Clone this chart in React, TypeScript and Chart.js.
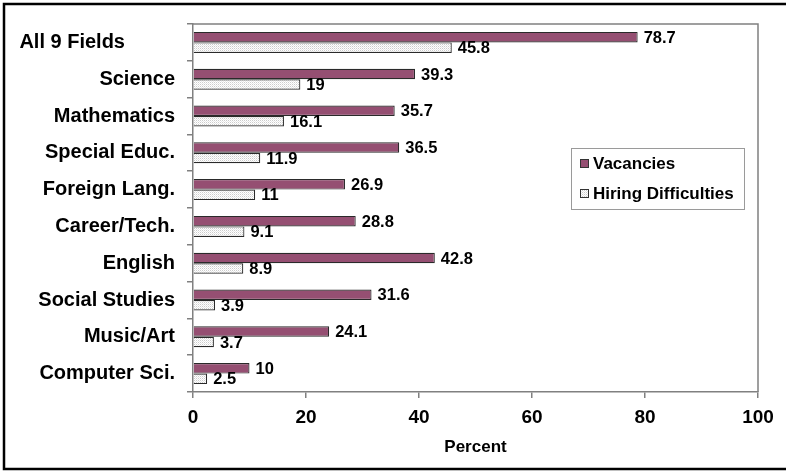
import React, { useEffect, useRef } from "react";
import { Chart, registerables } from "chart.js";

Chart.register(...registerables);

// Teacher shortage by field (percent of schools)
const categories = [
  "All 9 Fields",
  "Science",
  "Mathematics",
  "Special Educ.",
  "Foreign Lang.",
  "Career/Tech.",
  "English",
  "Social Studies",
  "Music/Art",
  "Computer Sci.",
];
const vacancies = [78.7, 39.3, 35.7, 36.5, 26.9, 28.8, 42.8, 31.6, 24.1, 10];
const hiringDifficulties = [45.8, 19, 16.1, 11.9, 11, 9.1, 8.9, 3.9, 3.7, 2.5];
const xTickValues = [0, 20, 40, 60, 80, 100];
const seriesNames = ["Vacancies", "Hiring Difficulties"];
const axisTitle = "Percent";

const FONT = '"Liberation Sans", Arial, Helvetica, sans-serif';
const W = 786;
const H = 472;

function makeStipple(): CanvasPattern | string {
  const c = document.createElement("canvas");
  c.width = 2;
  c.height = 2;
  const g = c.getContext("2d");
  if (!g) return "#eeeeee";
  g.fillStyle = "#ffffff";
  g.fillRect(0, 0, 2, 2);
  g.fillStyle = "#cccccc";
  g.fillRect(0, 0, 1, 1);
  g.fillStyle = "#e8e8e8";
  g.fillRect(1, 1, 1, 1);
  const p = g.createPattern(c, "repeat");
  return p || "#eeeeee";
}

// Outer frame and the plot-area outline (top / right edges)
const framePlugin = {
  id: "frame",
  beforeDraw(chart: any) {
    const { ctx } = chart;
    ctx.save();
    ctx.fillStyle = "#ffffff";
    ctx.fillRect(0, 0, W, H);
    ctx.strokeStyle = "#000000";
    ctx.lineWidth = 2.5;
    ctx.strokeRect(4, 4, W + 10, H - 7);
    ctx.restore();
  },
  beforeDatasetsDraw(chart: any) {
    const { ctx, chartArea } = chart;
    ctx.save();
    ctx.strokeStyle = "#808080";
    ctx.lineWidth = 1.5;
    ctx.beginPath();
    ctx.moveTo(chartArea.left, chartArea.top);
    ctx.lineTo(chartArea.right, chartArea.top);
    ctx.lineTo(chartArea.right, chartArea.bottom);
    ctx.stroke();
    ctx.restore();
  },
};

// Value labels at the end of each bar
const valueLabelPlugin = {
  id: "valueLabels",
  afterDatasetsDraw(chart: any) {
    const { ctx } = chart;
    ctx.save();
    ctx.font = `bold 16.5px ${FONT}`;
    ctx.fillStyle = "#000000";
    ctx.textAlign = "left";
    ctx.textBaseline = "middle";
    chart.data.datasets.forEach((ds: any, di: number) => {
      const meta = chart.getDatasetMeta(di);
      meta.data.forEach((el: any, i: number) => {
        const v = ds.data[i];
        ctx.fillText(String(v), el.x + 6, el.y + 1);
      });
    });
    ctx.restore();
  },
};

// Boxed legend inside the plot area
const boxLegendPlugin = {
  id: "boxLegend",
  afterDraw(chart: any) {
    const { ctx } = chart;
    const bx = 571;
    const by = 148;
    const bw = 173;
    const bh = 61;
    ctx.save();
    ctx.fillStyle = "#ffffff";
    ctx.fillRect(bx, by, bw, bh);
    ctx.strokeStyle = "#9a9a9a";
    ctx.lineWidth = 1;
    ctx.strokeRect(bx + 0.5, by + 0.5, bw, bh);
    ctx.font = `bold 17px ${FONT}`;
    ctx.textBaseline = "middle";
    ctx.textAlign = "left";
    chart.data.datasets.forEach((ds: any, i: number) => {
      const cy = by + 15 + i * 30;
      ctx.fillStyle = ds.backgroundColor;
      ctx.fillRect(bx + 9, cy - 4, 8, 8);
      ctx.strokeStyle = "#333333";
      ctx.strokeRect(bx + 9.5, cy - 3.5, 8, 8);
      ctx.fillStyle = "#000000";
      ctx.fillText(ds.label, bx + 22, cy + 1);
    });
    ctx.restore();
  },
};

export default function App() {
  const ref = useRef<HTMLCanvasElement | null>(null);

  useEffect(() => {
    if (!ref.current) return;
    const chart = new Chart(ref.current, {
      type: "bar",
      data: {
        labels: categories,
        datasets: [
          {
            label: seriesNames[0],
            data: vacancies,
            backgroundColor: "#954f72",
            borderColor: "#2a2a2a",
            borderWidth: 1.2,
            barPercentage: 1,
            categoryPercentage: 0.57,
          },
          {
            label: seriesNames[1],
            data: hiringDifficulties,
            backgroundColor: makeStipple() as any,
            borderColor: "#2a2a2a",
            borderWidth: 1.2,
            barPercentage: 1,
            categoryPercentage: 0.57,
          },
        ],
      },
      options: {
        indexAxis: "y",
        responsive: false,
        animation: false,
        layout: { padding: { top: 21, right: 28, bottom: 10, left: 0 } },
        plugins: {
          legend: { display: false },
          tooltip: { enabled: false },
        },
        scales: {
          x: {
            type: "linear",
            min: 0,
            max: 100,
            afterBuildTicks: (s: any) => {
              s.ticks = xTickValues.map((v) => ({ value: v }));
            },
            afterFit: (s: any) => {
              s.height = 70;
            },
            ticks: {
              color: "#000000",
              padding: 8,
              font: { family: FONT, size: 19, weight: "bold" },
            },
            grid: {
              drawOnChartArea: false,
              drawTicks: true,
              tickLength: 6,
              color: "#808080",
              lineWidth: 1.5,
            },
            border: { display: true, color: "#808080", width: 1.5 },
            title: {
              display: true,
              text: axisTitle,
              color: "#000000",
              font: { family: FONT, size: 17, weight: "bold", lineHeight: 1.2 },
              padding: { top: 0, bottom: 4 },
            },
          },
          y: {
            type: "category",
            afterFit: (s: any) => {
              s.width = 193;
            },
            ticks: {
              color: "#000000",
              padding: 12,
              font: { family: FONT, size: 20, weight: "bold" },
              // the summary row sits further left than the field names
              callback: (_v: any, i: number) =>
                i === 0 ? categories[i] + "         " : categories[i],
            },
            grid: {
              offset: true,
              drawOnChartArea: false,
              drawTicks: true,
              tickLength: 6,
              color: "#808080",
              lineWidth: 1.5,
            },
            border: { display: true, color: "#808080", width: 1.5 },
          },
        },
      },
      plugins: [framePlugin, valueLabelPlugin, boxLegendPlugin],
    } as any);
    return () => chart.destroy();
  }, []);

  return (
    <div style={{ position: "absolute", left: 0, top: 0, width: W, height: H, background: "#fff" }}>
      <canvas ref={ref} width={W} height={H} style={{ display: "block" }} />
    </div>
  );
}
